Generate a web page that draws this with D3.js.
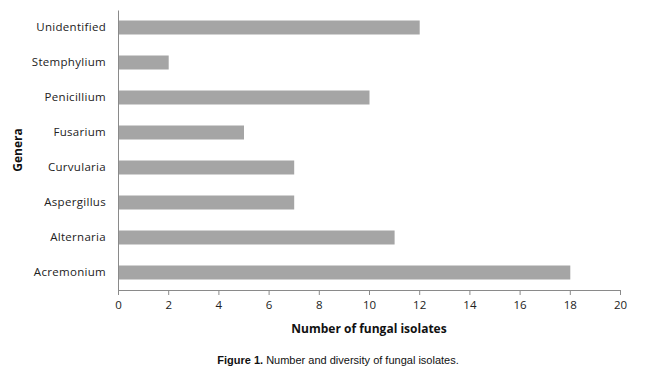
<!DOCTYPE html>
<html>
<head>
<meta charset="utf-8">
<script src="https://cdn.jsdelivr.net/npm/d3@7"></script>
<style>
  body { margin: 0; background: #fff; }
  svg text { font-family: "Open Sans", "DejaVu Sans", sans-serif; }
</style>
</head>
<body>
<svg id="chart" width="657" height="377"></svg>
<script>
/*  Data  */
const genera = ["Unidentified", "Stemphylium", "Penicillium", "Fusarium",
                "Curvularia", "Aspergillus", "Alternaria", "Acremonium"];
const isolates = [12, 2, 10, 5, 7, 7, 11, 18];
const xTicks = [0, 2, 4, 6, 8, 10, 12, 14, 16, 18, 20];

const margin = {top: 10, left: 118},
      width  = 620 - 118,
      height = 290 - 10;

const svg = d3.select("#chart")
  .append("g")
  .attr("transform", `translate(${margin.left},${margin.top})`);

const xScale = d3.scaleLinear().domain([0, 20]).range([0, width]);
const yScale = d3.scaleBand().domain(genera).range([0, height]).paddingInner(0.6).paddingOuter(0.3);

const rows = genera.map((g, i) => ({g, v: isolates[i]}));

svg.selectAll(".bar")
  .data(rows)
  .enter().append("rect")
  .attr("class", "bar")
  .attr("x", 0.5)
  .attr("y", d => yScale(d.g))
  .attr("width", d => xScale(d.v))
  .attr("height", yScale.bandwidth())
  .attr("fill", "#a5a5a5");

/* axes */
const xAxis = d3.axisBottom(xScale).tickValues(xTicks).tickSize(5).tickPadding(6);
const gx = svg.append("g").attr("transform", `translate(0,${height})`).call(xAxis);
gx.select(".domain").attr("stroke", "#8a8a8a");
gx.selectAll(".tick line").attr("stroke", "#8a8a8a");
gx.selectAll("text").attr("fill", "#222").style("font-size", "11.5px");

const yAxis = d3.axisLeft(yScale).tickSize(0).tickPadding(12);
const gy = svg.append("g").call(yAxis);
gy.select(".domain").attr("stroke", "#8a8a8a");
gy.selectAll("text").attr("fill", "#222").style("font-size", "11.5px").style("letter-spacing", "0.3px");

/* titles */
svg.append("text")
  .attr("x", width / 2)
  .attr("y", height + 43)
  .attr("text-anchor", "middle")
  .style("font-size", "12px")
  .style("font-weight", "bold")
  .attr("fill", "#111")
  .text("Number of fungal isolates");

svg.append("text")
  .attr("transform", "rotate(-90)")
  .attr("x", -height / 2)
  .attr("y", -96)
  .attr("text-anchor", "middle")
  .style("font-size", "12px")
  .style("font-weight", "bold")
  .attr("fill", "#111")
  .text("Genera");

/* caption */
const cap = d3.select("#chart").append("text")
  .attr("x", 338)
  .attr("y", 364)
  .attr("text-anchor", "middle")
  .style("font-family", "'Liberation Sans', Arial, sans-serif")
  .style("font-size", "11px")
  .attr("fill", "#111");
cap.append("tspan").style("font-weight", "bold").text("Figure 1.");
cap.append("tspan").text(" Number and diversity of fungal isolates.");
</script>
</body>
</html>
